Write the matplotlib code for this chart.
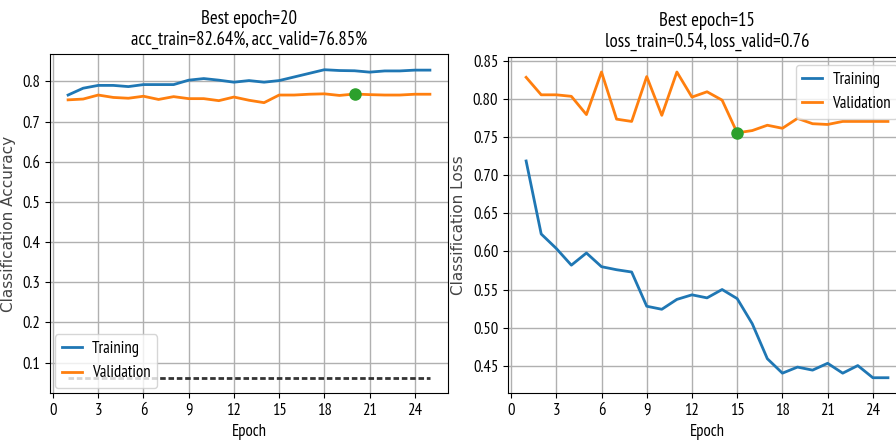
import matplotlib
matplotlib.use('Agg')
import matplotlib.pyplot as plt
import numpy as np

plt.rcParams['font.family'] = ['PT Sans Narrow', 'DejaVu Sans']

epochs = np.arange(1, 26)
acc_train = [0.766, 0.783, 0.790, 0.790, 0.787, 0.792, 0.792, 0.792, 0.803, 0.807,
             0.803, 0.798, 0.802, 0.798, 0.802, 0.811, 0.820, 0.829, 0.827, 0.8264,
             0.823, 0.826, 0.826, 0.828, 0.828]
acc_valid = [0.754, 0.756, 0.766, 0.760, 0.758, 0.763, 0.755, 0.762, 0.757, 0.757,
             0.752, 0.761, 0.753, 0.747, 0.766, 0.766, 0.768, 0.769, 0.765, 0.7685,
             0.767, 0.766, 0.766, 0.768, 0.768]
loss_train = [0.719, 0.623, 0.604, 0.582, 0.598, 0.580, 0.576, 0.573, 0.528, 0.524,
              0.537, 0.543, 0.539, 0.550, 0.538, 0.505, 0.459, 0.440, 0.448, 0.444,
              0.453, 0.440, 0.450, 0.434, 0.434]
loss_valid = [0.829, 0.806, 0.806, 0.804, 0.780, 0.836, 0.774, 0.771, 0.830, 0.779,
              0.836, 0.803, 0.810, 0.799, 0.756, 0.759, 0.766, 0.762, 0.775, 0.768,
              0.767, 0.771, 0.771, 0.771, 0.771]
chance = 1 / 16
best_acc = 20
best_loss = 15

fig = plt.figure(figsize=(8.96, 4.41), dpi=100)

# 准确率
ax1 = fig.add_axes([0.0558, 0.1088, 0.4442, 0.768])
ax1.plot(epochs, acc_train, lw=2, label='Training')
ax1.plot(epochs, acc_valid, lw=2, label='Validation')
ax1.plot(epochs, [chance] * len(epochs), color='#333333', lw=2, ls='--', dashes=(2, 1))
ax1.plot(best_acc, acc_valid[best_acc - 1], 'o', color='tab:green', ms=8)
ax1.set_title('Best epoch=%d\nacc_train=%.2f%%, acc_valid=%.2f%%'
              % (best_acc, acc_train[best_acc - 1] * 100, acc_valid[best_acc - 1] * 100),
              fontsize=13.5, pad=7)
ax1.set_xlabel('Epoch', fontsize=12)
ax1.set_ylabel('Classification Accuracy', fontsize=11, family='DejaVu Sans', color='#444444')
ax1.yaxis.set_label_coords(-0.085, 0.5)
ax1.set_xticks(np.arange(0, 25, 3))
ax1.tick_params(labelsize=12)
ax1.grid(True, lw=1)
ax1.legend(loc='lower left', fontsize=12, handlelength=1.2, handletextpad=0.6,
           borderaxespad=0.3)

# 损失
ax2 = fig.add_axes([0.567, 0.1088, 0.4442, 0.7626])
ax2.plot(epochs, loss_train, lw=2, label='Training')
ax2.plot(epochs, loss_valid, lw=2, label='Validation')
ax2.plot(best_loss, loss_valid[best_loss - 1], 'o', color='tab:green', ms=8)
ax2.set_title('Best epoch=%d\nloss_train=%.2f, loss_valid=%.2f'
              % (best_loss, loss_train[best_loss - 1], loss_valid[best_loss - 1]),
              fontsize=13.5, pad=7)
ax2.set_xlabel('Epoch', fontsize=12)
ax2.set_ylabel('Classification Loss', fontsize=11, family='DejaVu Sans', color='#444444')
ax2.yaxis.set_label_coords(-0.105, 0.5)
ax2.set_xticks(np.arange(0, 25, 3))
ax2.tick_params(labelsize=12)
ax2.grid(True, lw=1)
ax2.legend(loc='upper right', fontsize=12, handlelength=1.2, handletextpad=0.6)

fig.savefig('out.png', dpi=100)
